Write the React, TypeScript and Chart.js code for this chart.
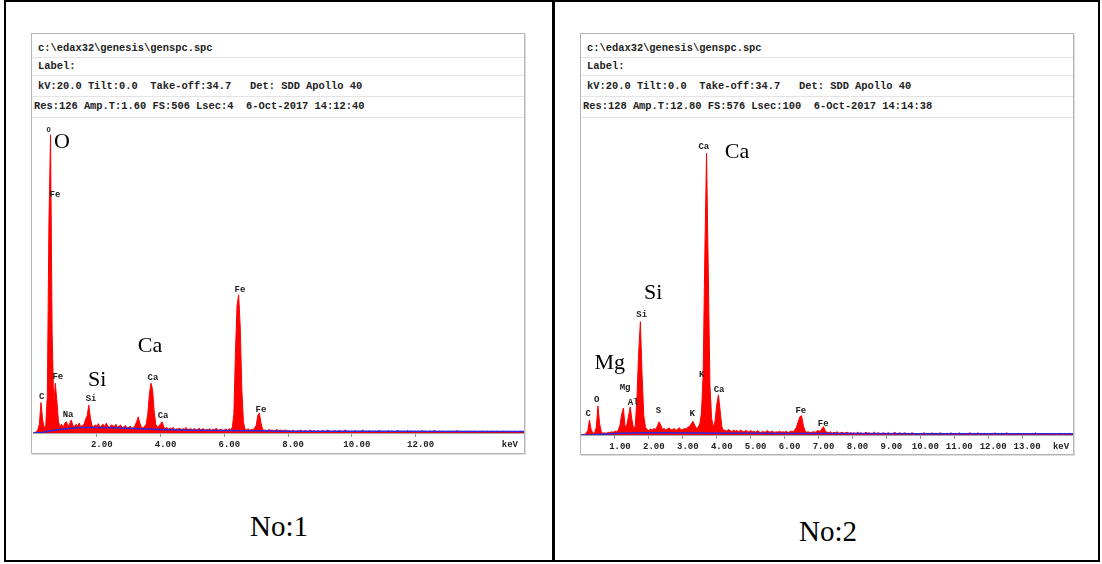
import React, { useEffect, useRef } from 'react';
import { Chart, registerables } from 'chart.js';

Chart.register(...registerables);

// Channel width of the spectra (keV per channel)
const CHANNEL_KEV = 0.05;

// Spectrum No:1 — counts per 0.05 keV channel, 0.00 .. 15.40 keV (FS 506)
const leftCounts = [
  0, 0, 2, 5, 14, 49, 22, 8, 12, 60, 340, 479, 160, 45, 80, 50, 18, 10, 14, 9,
  16, 18, 10, 15, 21, 12, 10, 14, 11, 16, 10, 12, 14, 22, 28, 45, 24, 12, 10, 13,
  11, 15, 9, 12, 14, 10, 16, 11, 9, 13, 12, 10, 14, 9, 11, 13, 8, 10, 12, 8,
  9, 11, 7, 9, 12, 18, 26, 16, 9, 8, 11, 14, 30, 62, 80, 70, 35, 14, 9, 12,
  14, 18, 10, 7, 9, 6, 8, 7, 9, 5, 7, 6, 8, 5, 7, 6, 9, 5, 6, 7,
  5, 7, 6, 4, 8, 5, 6, 7, 4, 6, 5, 7, 4, 6, 5, 8, 4, 5, 6, 4,
  5, 6, 4, 7, 5, 9, 30, 130, 205, 222, 170, 70, 18, 6, 5, 7, 4, 6, 5, 8,
  12, 28, 32, 16, 6, 4, 5, 3, 6, 4, 5, 3, 4, 6, 3, 5, 4, 3, 5, 4,
  3, 4, 2, 5, 3, 2, 4, 3, 5, 2, 3, 4, 2, 3, 5, 2, 4, 3, 2, 4,
  2, 3, 4, 2, 3, 5, 2, 3, 2, 4, 3, 2, 4, 3, 2, 3, 5, 2, 3, 2,
  3, 2, 4, 2, 3, 2, 3, 5, 2, 3, 2, 4, 2, 3, 2, 3, 2, 4, 3, 2,
  2, 3, 2, 4, 2, 3, 2, 2, 3, 4, 2, 3, 2, 3, 2, 4, 2, 3, 2, 2,
  3, 2, 3, 2, 4, 2, 3, 2, 2, 3, 2, 3, 4, 2, 2, 3, 2, 3, 2, 2,
  2, 3, 2, 2, 3, 2, 4, 2, 3, 2, 2, 3, 2, 2, 3, 2, 2, 3, 2, 2,
  2, 2, 3, 2, 2, 3, 2, 2, 3, 2, 2, 3, 2, 2, 2, 3, 2, 2, 3, 2,
  2, 2, 3, 2, 2, 2, 3, 2, 2,
];

// Spectrum No:2 — counts per 0.05 keV channel, 0.00 .. 14.50 keV (FS 576)
const rightCounts = [
  0, 0, 1, 3, 8, 27, 10, 3, 4, 14, 53, 20, 5, 3, 4, 3, 5, 4, 6, 5,
  7, 6, 9, 18, 38, 49, 14, 18, 34, 51, 28, 12, 16, 70, 150, 206, 110, 35, 14, 10,
  8, 11, 9, 12, 10, 16, 24, 18, 10, 12, 9, 11, 13, 9, 10, 12, 8, 11, 13, 9,
  10, 12, 11, 14, 16, 20, 25, 18, 12, 14, 20, 40, 110, 330, 512, 300, 90, 30, 14, 25,
  55, 73, 45, 15, 8, 9, 7, 10, 8, 6, 9, 7, 8, 6, 9, 7, 6, 8, 7, 5,
  8, 6, 7, 5, 8, 6, 4, 7, 5, 6, 8, 5, 6, 7, 4, 6, 5, 7, 5, 6,
  5, 7, 4, 6, 7, 6, 9, 14, 24, 33, 35, 18, 8, 5, 6, 4, 5, 6, 5, 7,
  8, 6, 12, 15, 7, 5, 4, 6, 3, 5, 4, 6, 3, 4, 5, 3, 4, 5, 3, 4,
  3, 4, 2, 5, 3, 4, 2, 3, 5, 3, 4, 2, 3, 5, 2, 4, 3, 2, 4, 3,
  2, 4, 3, 2, 3, 5, 2, 3, 4, 2, 3, 4, 2, 3, 2, 4, 3, 2, 3, 2,
  3, 2, 4, 3, 2, 3, 2, 4, 2, 3, 2, 3, 4, 2, 3, 2, 3, 2, 4, 2,
  2, 3, 2, 4, 2, 3, 2, 3, 2, 4, 3, 2, 3, 2, 4, 2, 3, 2, 3, 2,
  3, 2, 3, 2, 4, 2, 3, 2, 3, 2, 2, 4, 2, 3, 2, 3, 2, 2, 3, 2,
  2, 3, 2, 3, 2, 2, 3, 2, 4, 2, 3, 2, 2, 3, 2, 2, 3, 2, 2, 3,
  2, 2, 3, 2, 2, 3, 2, 2, 3, 2, 2,
];

// Background (blue) curves
const leftBgKeV = [0, 0.3, 0.6, 1.0, 1.5, 2.0, 2.5, 3.0, 3.5, 4.0, 5.0, 6.0, 7.0, 8.0, 10.0, 15.4];
const leftBgCounts = [0, 1, 4, 7, 9, 9, 8.5, 7.5, 6.5, 5.5, 4.5, 4, 3.5, 3, 2.8, 2.6];
const rightBgKeV = [0, 0.3, 0.6, 1.0, 1.5, 2.0, 2.5, 3.0, 3.5, 4.0, 5.0, 6.0, 7.0, 8.0, 10.0, 14.5];
const rightBgCounts = [0, 0.5, 1.5, 2.5, 3.5, 4, 4, 3.8, 3.5, 3.2, 3, 2.8, 2.6, 2.5, 2.4, 2.3];

// Axes
const leftMaxKeV = 15.4;
const rightMaxKeV = 14.5;
const leftFullScale = 506;
const rightFullScale = 576;
const leftTickValues = [2, 4, 6, 8, 10, 12, 14.8];
const leftTickLabels = ['2.00', '4.00', '6.00', '8.00', '10.00', '12.00', 'keV'];
const rightTickValues = [1, 2, 3, 4, 5, 6, 7, 8, 9, 10, 11, 12, 13, 14];
const rightTickLabels = ['1.00', '2.00', '3.00', '4.00', '5.00', '6.00', '7.00', '8.00', '9.00', '10.00', '11.00', '12.00', '13.00', 'keV'];

// Peak labels (element, keV, counts)
const leftPeakNames = ['O', 'Fe', 'C', 'Fe', 'Na', 'Si', 'Ca', 'Ca', 'Fe', 'Fe'];
const leftPeakKeV = [0.49, 0.69, 0.27, 0.78, 1.10, 1.82, 3.76, 4.08, 6.49, 7.15];
const leftPeakAt = [487, 382, 58, 90, 30, 55, 88, 28, 230, 37];
const leftBigNames = ['O', 'Si', 'Ca'];
const leftBigKeV = [0.91, 2.01, 3.67];
const leftBigAt = [467, 85, 140];

const rightPeakNames = ['C', 'O', 'Mg', 'Al', 'Si', 'S', 'K', 'K', 'Ca', 'Ca', 'Fe', 'Fe'];
const rightPeakKeV = [0.215, 0.46, 1.30, 1.54, 1.79, 2.28, 3.28, 3.56, 3.62, 4.07, 6.48, 7.14];
const rightPeakAt = [38, 64, 85, 59, 218, 44, 38, 109, 523, 82, 45, 20];
const rightBigNames = ['Mg', 'Si', 'Ca'];
const rightBigKeV = [0.85, 2.13, 4.6];
const rightBigAt = [130, 257, 514];

const MONO = '"Liberation Mono", "Courier New", monospace';
const SERIF = '"Liberation Serif", "Times New Roman", serif';

const labelPlugin = {
  id: 'peakLabels',
  afterDatasetsDraw(chart: any, _args: any, opts: any) {
    const { ctx } = chart;
    const xs = chart.scales.x;
    const ys = chart.scales.y;
    ctx.save();
    ctx.textAlign = 'center';
    ctx.textBaseline = 'middle';
    ctx.fillStyle = '#222';
    opts.names.forEach((t: string, i: number) => {
      ctx.font = `bold ${t === 'O' && opts.at[i] > 400 ? 7 : 9}px ${MONO}`;
      ctx.fillText(t, xs.getPixelForValue(opts.keV[i]), ys.getPixelForValue(opts.at[i]));
    });
    ctx.fillStyle = '#000';
    ctx.font = `22px ${SERIF}`;
    opts.bigNames.forEach((t: string, i: number) => {
      ctx.fillText(t, xs.getPixelForValue(opts.bigKeV[i]), ys.getPixelForValue(opts.bigAt[i]));
    });
    ctx.restore();
  },
};

type SpecProps = {
  counts: number[];
  bgKeV: number[];
  bgCounts: number[];
  maxKeV: number;
  fullScale: number;
  tickValues: number[];
  tickLabels: string[];
  names: string[];
  keV: number[];
  at: number[];
  bigNames: string[];
  bigKeV: number[];
  bigAt: number[];
  left: number;
  top: number;
  width: number;
  height: number;
  padLeft: number;
};

function Spectrum(p: SpecProps) {
  const ref = useRef<HTMLCanvasElement | null>(null);
  useEffect(() => {
    if (!ref.current) return;
    const spectrum = p.counts.map((c, i) => ({ x: i * CHANNEL_KEV, y: c }));
    const bg = p.bgKeV.map((e, i) => ({ x: e, y: p.bgCounts[i] }));
    const kevTick = p.tickValues[p.tickValues.length - 1];
    const chart = new Chart(ref.current, {
      type: 'line',
      data: {
        datasets: [
          {
            data: bg,
            borderColor: 'rgb(40,40,230)',
            borderWidth: 1.5,
            pointRadius: 0,
            fill: false,
            tension: 0,
            order: 0,
          },
          {
            data: spectrum,
            borderColor: 'rgb(255,0,0)',
            backgroundColor: 'rgb(255,0,0)',
            borderWidth: 1,
            pointRadius: 0,
            fill: 'origin',
            tension: 0,
            order: 1,
          },
        ],
      },
      options: {
        animation: false,
        responsive: false,
        maintainAspectRatio: false,
        layout: { padding: { left: p.padLeft, right: 0, top: 0, bottom: 0 } },
        plugins: {
          legend: { display: false },
          tooltip: { enabled: false },
          peakLabels: {
            names: p.names,
            keV: p.keV,
            at: p.at,
            bigNames: p.bigNames,
            bigKeV: p.bigKeV,
            bigAt: p.bigAt,
          },
        } as any,
        scales: {
          x: {
            type: 'linear',
            min: 0,
            max: p.maxKeV,
            afterBuildTicks: (s: any) => {
              s.ticks = p.tickValues.map((v) => ({ value: v }));
            },
            afterFit: (s: any) => {
              s.height = 20;
            },
            grid: {
              drawOnChartArea: false,
              drawTicks: true,
              tickLength: 4,
              tickColor: (ctx: any) =>
                ctx.tick && ctx.tick.value === kevTick ? 'rgba(0,0,0,0)' : '#999',
            },
            border: { display: true, color: '#a8a8a8', width: 1 },
            ticks: {
              autoSkip: false,
              maxRotation: 0,
              minRotation: 0,
              padding: 2,
              labelOffset: 5,
              color: '#222',
              font: { family: MONO, size: 9, weight: 'bold' },
              callback: (v: any) => {
                const idx = p.tickValues.indexOf(Number(v));
                return idx >= 0 ? p.tickLabels[idx] : '';
              },
            },
          },
          y: { type: 'linear', display: false, min: 0, max: p.fullScale },
        },
      } as any,
      plugins: [labelPlugin as any],
    });
    return () => chart.destroy();
  }, []);
  return (
    <canvas
      ref={ref}
      width={p.width}
      height={p.height}
      style={{ position: 'absolute', left: p.left, top: p.top, width: p.width, height: p.height }}
    />
  );
}

function HeaderRows({ left, rows }: { left: number; rows: string[] }) {
  const rowY = [48, 66, 86, 106];
  const sepY = [57, 75, 96, 117];
  const textLeft = [left + 7, left + 7, left + 7, left + 3];
  return (
    <>
      {rows.map((r, i) => (
        <div
          key={'r' + i}
          style={{
            position: 'absolute',
            left: textLeft[i],
            top: rowY[i] - 7,
            height: 14,
            lineHeight: '14px',
            fontFamily: MONO,
            fontWeight: 'bold',
            fontSize: 10.4,
            color: '#222',
            whiteSpace: 'pre',
          }}
        >
          {r}
        </div>
      ))}
      {sepY.map((y, i) => (
        <div
          key={'s' + i}
          style={{ position: 'absolute', left: left + 1, top: y, width: 492, height: 1, background: '#e4e4e4' }}
        />
      ))}
    </>
  );
}

export default function App() {
  const line = (l: number, t: number, w: number, h: number) => ({
    position: 'absolute' as const,
    left: l,
    top: t,
    width: w,
    height: h,
    background: '#000',
  });
  const box = (l: number, t: number, w: number, h: number) => ({
    position: 'absolute' as const,
    left: l,
    top: t,
    width: w,
    height: h,
    border: '1px solid #b4b4b4',
    boxShadow: '1px 1px 0 #dcdcdc',
    boxSizing: 'border-box' as const,
    background: '#fff',
  });
  return (
    <div style={{ position: 'absolute', left: 0, top: 0, width: 1102, height: 564, background: '#fff', overflow: 'hidden' }}>
      <div style={line(4, 0, 1096, 2)} />
      <div style={line(4, 560, 1096, 2)} />
      <div style={line(4, 0, 2, 562)} />
      <div style={line(1098, 0, 2, 562)} />
      <div style={line(552, 0, 3, 562)} />

      <div style={box(31, 33, 494, 421)} />
      <HeaderRows
        left={31}
        rows={[
          'c:\\edax32\\genesis\\genspc.spc',
          'Label:',
          'kV:20.0 Tilt:0.0  Take-off:34.7   Det: SDD Apollo 40',
          'Res:126 Amp.T:1.60 FS:506 Lsec:4  6-Oct-2017 14:12:40',
        ]}
      />
      <Spectrum
        counts={leftCounts}
        bgKeV={leftBgKeV}
        bgCounts={leftBgCounts}
        maxKeV={leftMaxKeV}
        fullScale={leftFullScale}
        tickValues={leftTickValues}
        tickLabels={leftTickLabels}
        names={leftPeakNames}
        keV={leftPeakKeV}
        at={leftPeakAt}
        bigNames={leftBigNames}
        bigKeV={leftBigKeV}
        bigAt={leftBigAt}
        left={32}
        top={118}
        width={492}
        height={335}
        padLeft={1}
      />

      <div style={box(580, 33, 494, 422)} />
      <HeaderRows
        left={580}
        rows={[
          'c:\\edax32\\genesis\\genspc.spc',
          'Label:',
          'kV:20.0 Tilt:0.0  Take-off:34.7   Det: SDD Apollo 40',
          'Res:128 Amp.T:12.80 FS:576 Lsec:100  6-Oct-2017 14:14:38',
        ]}
      />
      <Spectrum
        counts={rightCounts}
        bgKeV={rightBgKeV}
        bgCounts={rightBgCounts}
        maxKeV={rightMaxKeV}
        fullScale={rightFullScale}
        tickValues={rightTickValues}
        tickLabels={rightTickLabels}
        names={rightPeakNames}
        keV={rightPeakKeV}
        at={rightPeakAt}
        bigNames={rightBigNames}
        bigKeV={rightBigKeV}
        bigAt={rightBigAt}
        left={581}
        top={118}
        width={492}
        height={337}
        padLeft={0}
      />

      <div
        style={{
          position: 'absolute',
          left: 179,
          top: 508,
          width: 200,
          textAlign: 'center',
          fontFamily: SERIF,
          fontSize: 29,
          lineHeight: '36px',
          color: '#000',
        }}
      >
        No:1
      </div>
      <div
        style={{
          position: 'absolute',
          left: 728,
          top: 513,
          width: 200,
          textAlign: 'center',
          fontFamily: SERIF,
          fontSize: 29,
          lineHeight: '36px',
          color: '#000',
        }}
      >
        No:2
      </div>
    </div>
  );
}
